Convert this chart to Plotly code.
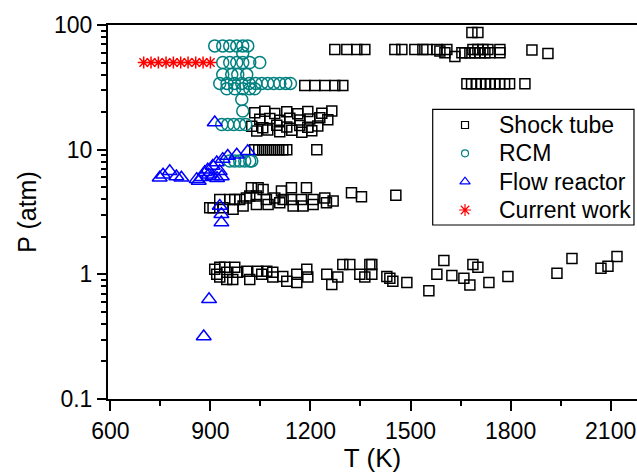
import plotly.graph_objects as go

# ---------------- data ----------------
shock_T = [
    # ~87 atm
    1684, 1702,
    # ~60-64 atm
    1273, 1309, 1339, 1363, 1453, 1474, 1513, 1537, 1549, 1579, 1609, 1588, 1633,
    1603, 1654, 1663, 1678, 1693, 1708, 1723, 1738, 1768,
    1687, 1702, 1717, 1732, 1768, 1864, 1912,
    # ~33 atm
    1183, 1213, 1243, 1273, 1297,
    1669, 1683, 1697, 1711, 1725, 1739, 1753, 1767, 1782, 1797, 1843,
    # ~14-20 atm
    1033, 1063, 1093, 1129, 1162, 1192, 1234, 1264,
    1048, 1078, 1108, 1138, 1168, 1198, 1228, 1252,
    1024, 1057, 1099, 1129, 1168, 1192, 1222,
    1039, 1072, 1108, 1144, 1174, 1204,
    # ~10 atm
    1033, 1045, 1057, 1069, 1081, 1093, 1105, 1117, 1129, 1219,
    # ~3-5 atm
    1023, 1043, 1058, 1113, 1143, 1188, 1018, 1038, 1008, 1068, 1093, 1118, 1143,
    1173, 1208, 1243, 928, 958, 973, 988, 908, 938, 968, 998, 1038, 1073, 1108,
    1148, 1178, 1208, 1248, 1268, 1323, 1353, 898, 1456,
    # ~1 atm
    913, 928, 943, 949, 919, 928, 949, 973, 967, 982, 1009, 1018, 1042, 1054, 1069,
    1087, 1087, 1117, 1129, 1159, 1159, 1189, 1192, 1249, 1264, 1282, 1297, 1318,
    1348, 1378, 1363,
    1384, 1384, 1429, 1438, 1447, 1489, 1555, 1579, 1600, 1624, 1660, 1678, 1687,
    1702, 1735, 1792, 1939, 1984, 2071, 2092, 2119,
]
shock_P = [
    87, 87,
    63.5, 63.5, 63.5, 63.5, 63.5, 63.5, 63.5, 63.5, 63.5, 63.5, 63.5, 62, 56,
    59.8, 59.8, 59.8, 59.8, 59.8, 59.8, 59.8, 59.8, 59.8,
    63.5, 63.5, 63.5, 63.5, 63.5, 63, 59,
    32.7, 32.7, 32.7, 32.7, 32.7,
    33.8, 33.8, 33.8, 33.8, 33.8, 33.8, 33.8, 33.8, 33.8, 33.8, 33.8,
    19.8, 20.3, 19.5, 20.1, 19.4, 20.2, 19.6, 20.4,
    17.5, 17.8, 17.2, 17.9, 17.3, 17.6, 18.0, 17.4,
    15.4, 15.0, 15.7, 15.2, 15.6, 15.1, 15.5,
    14.1, 14.4, 13.9, 14.3, 13.8, 14.2,
    10, 10, 10, 10, 10, 10, 10, 10, 10, 10,
    4.95, 4.95, 4.8, 4.65, 4.95, 4.95, 4.24, 4.24, 4.1, 3.99, 4.1, 3.99, 3.99,
    3.99, 3.99, 4.1, 3.99, 3.99, 3.99, 3.99, 3.42, 3.42, 3.32, 3.53, 3.64, 3.64, 3.76,
    3.53, 3.53, 3.64, 3.76, 3.87, 4.52, 4.2, 3.42, 4.3,
    1.10, 1.14, 1.14, 1.04, 1.0, 0.95, 0.91, 1.14, 0.91, 1.04, 1.06, 0.91, 1.06, 1.0, 1.06,
    1.04, 0.95, 0.96, 0.88, 1.0, 0.86, 1.10, 0.95, 1.0, 0.83, 0.95, 1.20, 1.20,
    1.0, 1.20, 0.95,
    1.20, 1.0, 0.96, 0.93, 0.88, 0.86, 0.74, 1.0, 1.29, 0.98, 0.93, 0.82, 1.20,
    1.14, 0.86, 0.96, 1.02, 1.34, 1.12, 1.16, 1.39,
]

rcm_T = [913, 937, 958, 979, 997, 1012,
         937, 958, 979, 997, 1018, 1048, 997,
         937, 964, 982, 1009,
         928, 950, 972, 994, 1016, 1036, 1054, 1072, 1090, 1108, 1126, 1140,
         949, 973, 997, 1018, 1033,
         994, 997,
         934, 952, 970, 988, 1006,
         958, 973, 988, 1003, 1018, 1024]
rcm_P = [68, 68, 68, 68, 68, 68,
         50, 50, 50, 50, 50, 50, 59.7,
         40, 40, 40, 40,
         34, 34, 34, 34, 34, 34, 34, 34, 34, 34, 34, 34,
         30.8, 30.8, 30.8, 30.8, 30.8,
         25.3, 20.4,
         15.9, 15.9, 15.9, 15.9, 15.9,
         8.1, 8.1, 8.1, 8.1, 8.1, 8.1]

flow_T = [913, 1012, 979, 952, 937, 919, 907, 892, 883, 874, 859, 928, 934, 907,
          895, 865, 920, 813, 748, 758, 778, 798, 928, 933, 933, 896, 880]
flow_P = [16.5, 9.7, 9.1, 8.9, 8.4, 7.9, 7.4, 6.9, 6.6, 6.0, 5.8, 6.7, 6.1, 6.1,
          6.3, 5.6, 5.9, 5.96, 5.96, 6.3, 6.7, 6.1, 3.53, 3.03, 2.6, 0.63, 0.317]

cur_T = [700, 722, 744, 767, 789, 811, 833, 856, 878, 900]
cur_P = [50, 50, 50, 50, 50, 50, 50, 50, 50, 50]

x_ticks = [600, 900, 1200, 1500, 1800, 2100]
y_ticks = [0.1, 1, 10, 100]
y_tick_text = ["0.1", "1", "10", "100"]
y_minor = [0.2, 0.3, 0.4, 0.5, 0.6, 0.7, 0.8, 0.9, 2, 3, 4, 5, 6, 7, 8, 9,
           20, 30, 40, 50, 60, 70, 80, 90]

names = ["Shock tube", "RCM", "Flow reactor", "Current work"]
colors = ["black", "#008080", "#0000FF", "#FF0000"]
symbols = ["square-open", "circle-open", "triangle-up-open", "asterisk-open"]
sizes = [10, 12, 13, 10]
legend_sizes = [7, 7, 9, 10]

FONT = "Liberation Sans, Arial, sans-serif"

# legend geometry (paper fractions of the plot area)
leg_box = dict(x0=0.6138, x1=0.9943, y0=0.4652, y1=0.7746)
leg_row_y = [0.7326, 0.6570, 0.5810, 0.5053]
leg_sym_x = 0.6749
leg_txt_x = 0.7353

fig = go.Figure()
series = [(shock_T, shock_P), (rcm_T, rcm_P), (flow_T, flow_P), (cur_T, cur_P)]
for (xs, ys), n, c, s, sz in zip(series, names, colors, symbols, sizes):
    fig.add_trace(go.Scatter(
        x=xs, y=ys, mode="markers", name=n, showlegend=False,
        marker=dict(symbol=s, size=sz, color=c, line=dict(color=c, width=1.5)),
    ))

# legend symbols on an overlay axis spanning the plot area (0..1)
for n, c, s, sz, ry in zip(names, colors, symbols, legend_sizes, leg_row_y):
    fig.add_trace(go.Scatter(
        x=[leg_sym_x], y=[ry], xaxis="x2", yaxis="y2", mode="markers",
        showlegend=False, hoverinfo="skip",
        marker=dict(symbol=s, size=sz, color=c, line=dict(color=c, width=1.2)),
    ))
    fig.add_annotation(
        x=leg_txt_x, y=ry, xref="paper", yref="paper", text=n,
        showarrow=False, xanchor="left", yanchor="middle",
        font=dict(family=FONT, size=23, color="black"),
    )

fig.add_shape(type="rect", xref="paper", yref="paper", layer="below",
              line=dict(color="black", width=1.2), fillcolor="rgba(0,0,0,0)",
              **leg_box)

fig.update_layout(
    width=637, height=473,
    margin=dict(l=108, r=0, t=25, b=74),
    paper_bgcolor="white", plot_bgcolor="white",
    font=dict(family=FONT, size=23, color="black"),
    showlegend=False,
    xaxis=dict(
        range=[593, 2179], tickvals=x_ticks, ticktext=[str(v) for v in x_ticks],
        ticks="outside", ticklen=10, tickwidth=1.5, tickcolor="black",
        minor=dict(dtick=150, tick0=600, ticks="outside", ticklen=5,
                   tickwidth=1.5, tickcolor="black", showgrid=False),
        showline=True, linecolor="black", linewidth=2, mirror=True,
        showgrid=False, zeroline=False,
        title=dict(text="T (K)", font=dict(family=FONT, size=26), standoff=7),
        tickfont=dict(family=FONT, size=23),
    ),
    yaxis=dict(
        type="log", range=[-1, 2], tickvals=y_ticks, ticktext=y_tick_text,
        ticks="outside", ticklen=9, tickwidth=1.5, tickcolor="black",
        minor=dict(tickvals=y_minor, ticks="outside", ticklen=5,
                   tickwidth=1.5, tickcolor="black", showgrid=False),
        showline=True, linecolor="black", linewidth=2,
        showgrid=False, zeroline=False,
        title=dict(text="P (atm)", font=dict(family=FONT, size=25), standoff=10),
        tickfont=dict(family=FONT, size=23),
    ),
    xaxis2=dict(range=[0, 1], overlaying="x", visible=False, fixedrange=True),
    yaxis2=dict(range=[0, 1], overlaying="y", visible=False, fixedrange=True),
)

fig.write_html("out.html")
